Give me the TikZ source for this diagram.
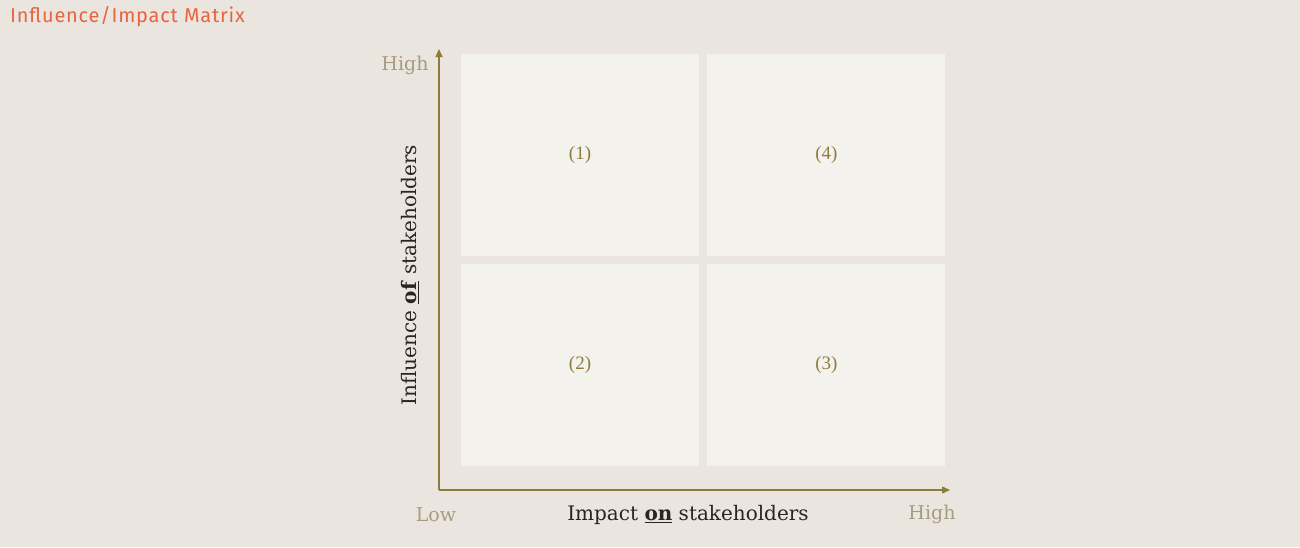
\documentclass[tikz,border=0pt]{standalone}
\usepackage{fontspec}
\setmainfont{DejaVu Serif}
\newfontfamily\titlefont[LetterSpace=4]{Fira Sans}
\newfontfamily\numfont{Liberation Serif}
\usetikzlibrary{positioning}
\usetikzlibrary{arrows.meta}
\definecolor{bgcol}{HTML}{EAE6DF}
\definecolor{boxcol}{HTML}{F3F2ED}
\definecolor{axiscol}{HTML}{8E7C3C}
\definecolor{numcol}{HTML}{8E7C3C}
\definecolor{mutedcol}{HTML}{A89B80}
\definecolor{inkcol}{HTML}{2A251F}
\definecolor{titlecol}{HTML}{E8643F}

\begin{document}
\begin{tikzpicture}[x=1pt,y=-1pt,
    quad/.style={fill=boxcol, draw=none, minimum width=238pt, minimum height=202pt,
                 inner sep=0pt, text=numcol, font=\numfont\fontsize{19}{23}\selectfont},
    axis/.style={draw=axiscol, line width=1.3pt, -{Triangle[length=8pt,width=7pt]}},
    ends/.style={text=mutedcol, font=\fontsize{19}{23}\selectfont, inner sep=0pt},
    axislabel/.style={text=inkcol, font=\fontsize{20}{24}\selectfont, inner sep=0pt}]
		\useasboundingbox[fill=bgcol] (0,0) rectangle (1300,547);
		% title
		\node (title) [anchor=base west, inner sep=0pt, text=titlecol,
		  font=\titlefont\fontsize{20}{24}\selectfont] at (10,22) {Influence/Impact Matrix};
		% quadrants
		\node (q1) [quad] at (580,155) {(1)};
		\node (q4) [quad, right=8pt of q1] {(4)};
		\node (q2) [quad, below=8pt of q1] {(2)};
		\node (q3) [quad, below=8pt of q4] {(3)};
		% axes
		\coordinate (origin) at (439,490);
		\coordinate (ytop) at (439,49);
		\coordinate (xend) at (950,490);
		\draw[axis] (origin) -- (ytop);
		\draw[axis] (origin) -- (xend);
		\node (yhigh) [ends] at (405,65) {High};
		\node (xlow) [ends] at (436,515) {Low};
		\node (xhigh) [ends] at (932,514) {High};
		\node (xlabel) [axislabel] at (688,515) {Impact \underline{\textbf{on}} stakeholders};
		\node (ylabel) [axislabel, rotate=90] at (410,275) {Influence \underline{\textbf{of}} stakeholders};
\end{tikzpicture}
\end{document}
